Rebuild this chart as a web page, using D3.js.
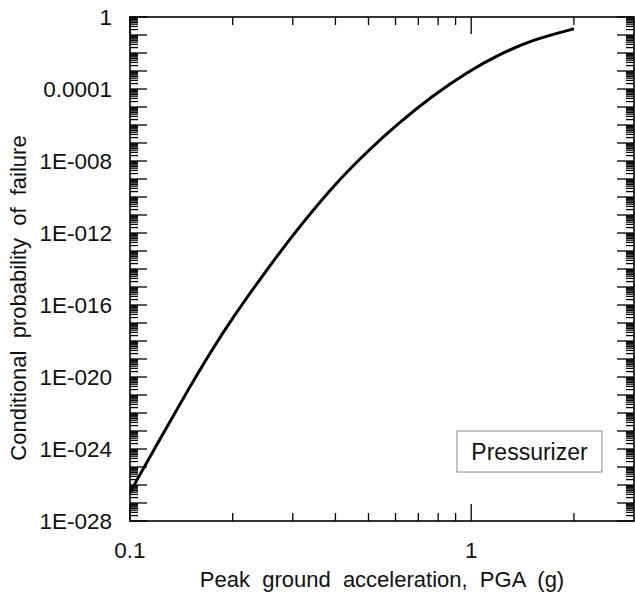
<!DOCTYPE html>
<html>
<head>
<meta charset="utf-8">
<script src="https://cdn.jsdelivr.net/npm/d3@7"></script>
<style>
  body { margin: 0; background: #fff; }
  text { font-family: "Liberation Sans", Arial, sans-serif; fill: #111; white-space: pre; }
</style>
</head>
<body>
<div id="chart"></div>
<script>
// 数据
const pga = [0.1, 0.1034, 0.1251, 0.1498, 0.1714, 0.2006, 0.2456, 0.2877, 0.3295, 0.394, 0.494,
    0.6057, 0.774, 0.969, 1.2132, 1.5186, 2.0];
const probFailure = [3.6e-27, 1.23e-26, 7.4e-24, 2.9e-21, 2.1e-19, 2.2e-17, 4.7e-15, 2.7e-13, 6.8e-12,
    4.1e-10, 3.2e-8, 1.07e-6, 4.5e-5, 8.3e-4, 8.9e-3, 0.0555, 0.221];
const yLabelValues = [1, 1e-4, 1e-8, 1e-12, 1e-16, 1e-20, 1e-24, 1e-28];
const yLabelTexts = ['1', '0.0001', '1E-008', '1E-012', '1E-016', '1E-020', '1E-024', '1E-028'];
const xLabelValues = [0.1, 1];
const xLabelTexts = ['0.1', '1'];
const legendText = 'Pressurizer';

const width = 635, height = 592;
const margin = { left: 130, right: 1, top: 17, bottom: 71 };

const svg = d3.select('#chart').append('svg')
    .attr('width', width)
    .attr('height', height);

const x = d3.scaleLog().domain([0.1, 3]).range([margin.left, width - margin.right]);
const y = d3.scaleLog().domain([1e-28, 1]).range([height - margin.bottom, margin.top]);

const x0 = x.range()[0], x1 = x.range()[1];
const y0 = y.range()[0], y1 = y.range()[1];

// 刻度
const yMajor = d3.range(-28, 1).map(e => Math.pow(10, e));
const yMinor = [];
d3.range(-28, 0).forEach(e => {
    for (let k = 2; k <= 9; k++) yMinor.push(k * Math.pow(10, e));
});
const xMajor = [0.1, 1];
const xMinor = [0.2, 0.3, 0.4, 0.5, 0.6, 0.7, 0.8, 0.9, 2];

const ticks = svg.append('g').attr('stroke', '#000').attr('stroke-width', 1.3);

[[x0, 1], [x1, -1]].forEach(([px, dir]) => {
    ticks.selectAll(null).data(yMinor).enter().append('line')
        .attr('x1', px).attr('x2', px + dir * 8)
        .attr('y1', d => y(d)).attr('y2', d => y(d));
    ticks.selectAll(null).data(yMajor).enter().append('line')
        .attr('x1', px).attr('x2', px + dir * 17)
        .attr('y1', d => y(d)).attr('y2', d => y(d));
});

[[y0, -1], [y1, 1]].forEach(([py, dir]) => {
    ticks.selectAll(null).data(xMinor).enter().append('line')
        .attr('x1', d => x(d)).attr('x2', d => x(d))
        .attr('y1', py).attr('y2', py + dir * 8);
    ticks.selectAll(null).data(xMajor).enter().append('line')
        .attr('x1', d => x(d)).attr('x2', d => x(d))
        .attr('y1', py).attr('y2', py + dir * 17);
});

// 边框
svg.append('rect')
    .attr('x', x0).attr('y', y1)
    .attr('width', x1 - x0).attr('height', y0 - y1)
    .attr('fill', 'none')
    .attr('stroke', '#000')
    .attr('stroke-width', 1.6);

// 刻度标签
svg.append('g').selectAll('text')
    .data(yLabelValues).enter().append('text')
    .attr('x', x0 - 18)
    .attr('y', d => y(d))
    .attr('dy', '0.36em')
    .attr('text-anchor', 'end')
    .style('font-size', '22.5px')
    .text((d, i) => yLabelTexts[i]);

svg.append('g').selectAll('text')
    .data(xLabelValues).enter().append('text')
    .attr('x', d => x(d))
    .attr('y', 558)
    .attr('text-anchor', 'middle')
    .style('font-size', '22.5px')
    .text((d, i) => xLabelTexts[i]);

// 轴标题
svg.append('text')
    .attr('x', 382)
    .attr('y', 587)
    .attr('text-anchor', 'middle')
    .style('font-size', '22px')
    .text('Peak  ground  acceleration,  PGA  (g)');

svg.append('text')
    .attr('transform', 'translate(26,298) rotate(-90)')
    .attr('text-anchor', 'middle')
    .style('font-size', '22px')
    .text('Conditional  probability  of  failure');

// 曲线
const line = d3.line()
    .x((d, i) => x(pga[i]))
    .y(d => y(d))
    .curve(d3.curveBasis);

svg.append('path')
    .datum(probFailure)
    .attr('d', line)
    .attr('fill', 'none')
    .attr('stroke', '#000')
    .attr('stroke-width', 3);

// 图例
const legend = svg.append('g');
legend.append('rect')
    .attr('x', 457).attr('y', 431)
    .attr('width', 145).attr('height', 41)
    .attr('fill', '#fff')
    .attr('stroke', '#888')
    .attr('stroke-width', 1);
legend.append('text')
    .attr('x', 529.5).attr('y', 460)
    .attr('text-anchor', 'middle')
    .style('font-size', '23px')
    .text(legendText);
</script>
</body>
</html>
